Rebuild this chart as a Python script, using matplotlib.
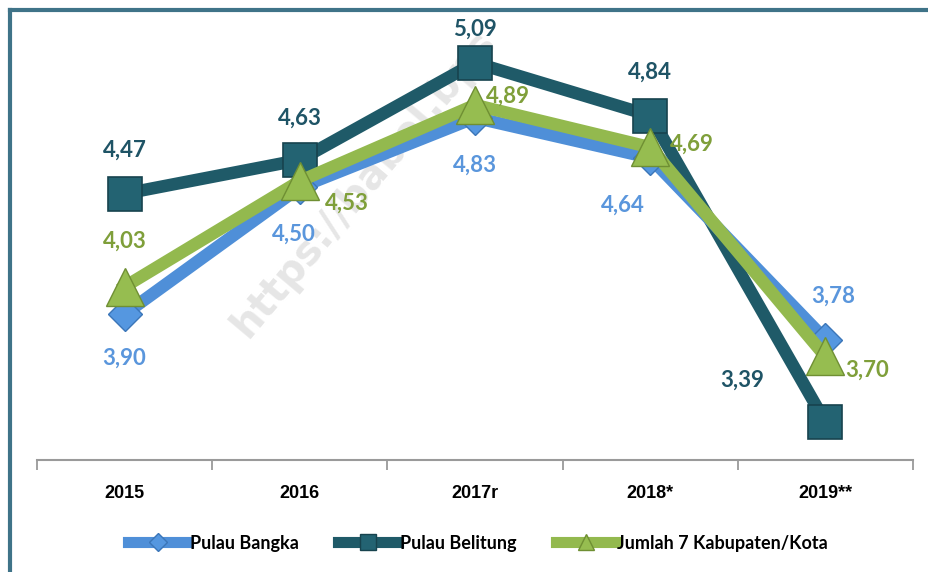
import matplotlib
matplotlib.use("Agg")
import matplotlib.pyplot as plt
from matplotlib.lines import Line2D

years = ["2015", "2016", "2017r", "2018*", "2019**"]
bangka = [3.90, 4.50, 4.83, 4.64, 3.78]
belitung = [4.47, 4.63, 5.09, 4.84, 3.39]
jumlah = [4.03, 4.53, 4.89, 4.69, 3.70]
series_names = ["Pulau Bangka", "Pulau Belitung", "Jumlah 7 Kabupaten/Kota"]
watermark = "https://babel.bps"

c_bangka = "#4f8fd8"
c_belitung = "#1f5a68"
c_jumlah = "#93b94e"
t_bangka = "#5a96dc"
t_belitung = "#1f5466"
t_jumlah = "#7f9f3a"

fig = plt.figure(figsize=(9.29, 5.72), dpi=100)
W, H = 929, 572
ax = fig.add_axes([37 / W, 1 - 460 / H, (913 - 37) / W, (460 - 12) / H])

x = list(range(len(years)))

# watermark
ax.text(0.70, 3.78, watermark, rotation=50, rotation_mode="anchor",
        ha="left", va="baseline", fontsize=29, fontweight="bold", color="#e6e6e6",
        family="DejaVu Sans", zorder=0)

ax.plot(x, belitung, color=c_belitung, lw=9, marker="s", ms=25,
        mfc="#236372", mec="#17434e", mew=1.2, zorder=2, solid_joinstyle="miter")
ax.plot(x, bangka, color=c_bangka, lw=9, marker="D", ms=17,
        mfc="#5597e0", mec="#3b76b8", mew=1.0, zorder=3, solid_joinstyle="miter")
ax.plot(x, jumlah, color=c_jumlah, lw=9, marker="^", ms=28,
        mfc="#96bd50", mec="#6f8f33", mew=1.0, zorder=4, solid_joinstyle="miter")

lab_font = dict(fontsize=16, fontweight="bold", family="Lato")

def fmt(v):
    return f"{v:.2f}".replace(".", ",")

# label offsets in points (dx, dy)
off_bel = [(0, 31), (0, 30), (0, 24), (0, 31), (-60, 30)]
off_ban = [(0, -32), (-4, -34), (0, -34), (-20, -34), (6, 31)]
off_jum = [(0, 33), (34, -16), (24, 6), (30, 2), (30, -10)]

for i in x:
    ax.annotate(fmt(belitung[i]), (i, belitung[i]), xytext=off_bel[i], textcoords="offset points",
                ha="center", va="center", color=t_belitung, zorder=6, **lab_font)
    ax.annotate(fmt(bangka[i]), (i, bangka[i]), xytext=off_ban[i], textcoords="offset points",
                ha="center", va="center", color=t_bangka, zorder=6, **lab_font)
    ax.annotate(fmt(jumlah[i]), (i, jumlah[i]), xytext=off_jum[i], textcoords="offset points",
                ha="center", va="center", color=t_jumlah, zorder=6, **lab_font)

ax.set_xlim(-0.5, len(years) - 0.5)
ax.set_ylim(3.21, 5.33)
ax.set_yticks([])
ax.set_xticks([i - 0.5 for i in range(len(years) + 1)])
ax.set_xticklabels([])
ax.set_xticks(x, minor=True)
ax.set_xticklabels(years, minor=True, fontsize=13, fontweight="bold",
                   family=["Liberation Sans Narrow", "Liberation Sans"])
ax.tick_params(axis="x", which="major", direction="out", length=7, width=1.3, color="#9a9a9a")
ax.tick_params(axis="x", which="minor", length=0, pad=18)
for s in ["top", "right", "left"]:
    ax.spines[s].set_visible(False)
ax.spines["bottom"].set_color("#9a9a9a")
ax.spines["bottom"].set_linewidth(1.5)

# frame lines
fig.add_artist(Line2D([10 / W, 10 / W], [0, 1 - 10 / H], transform=fig.transFigure,
                      color="#3f7388", lw=3))
fig.add_artist(Line2D([10 / W, 1], [1 - 10 / H, 1 - 10 / H], transform=fig.transFigure,
                      color="#3f7388", lw=3))

handles = [
    Line2D([], [], color=c_bangka, lw=8, marker="D", ms=9, mfc="#5597e0", mec="#3b76b8"),
    Line2D([], [], color=c_belitung, lw=8, marker="s", ms=11, mfc="#236372", mec="#17434e"),
    Line2D([], [], color=c_jumlah, lw=8, marker="^", ms=12, mfc="#96bd50", mec="#6f8f33"),
]
fig.legend(handles, series_names, loc="center", bbox_to_anchor=(478 / W, 1 - 543 / H),
           ncol=3, frameon=False, handlelength=3.3, handletextpad=0.1, columnspacing=2.2,
           prop=dict(family="Lato", weight="bold", size=13))

fig.savefig("out.png", dpi=100)
